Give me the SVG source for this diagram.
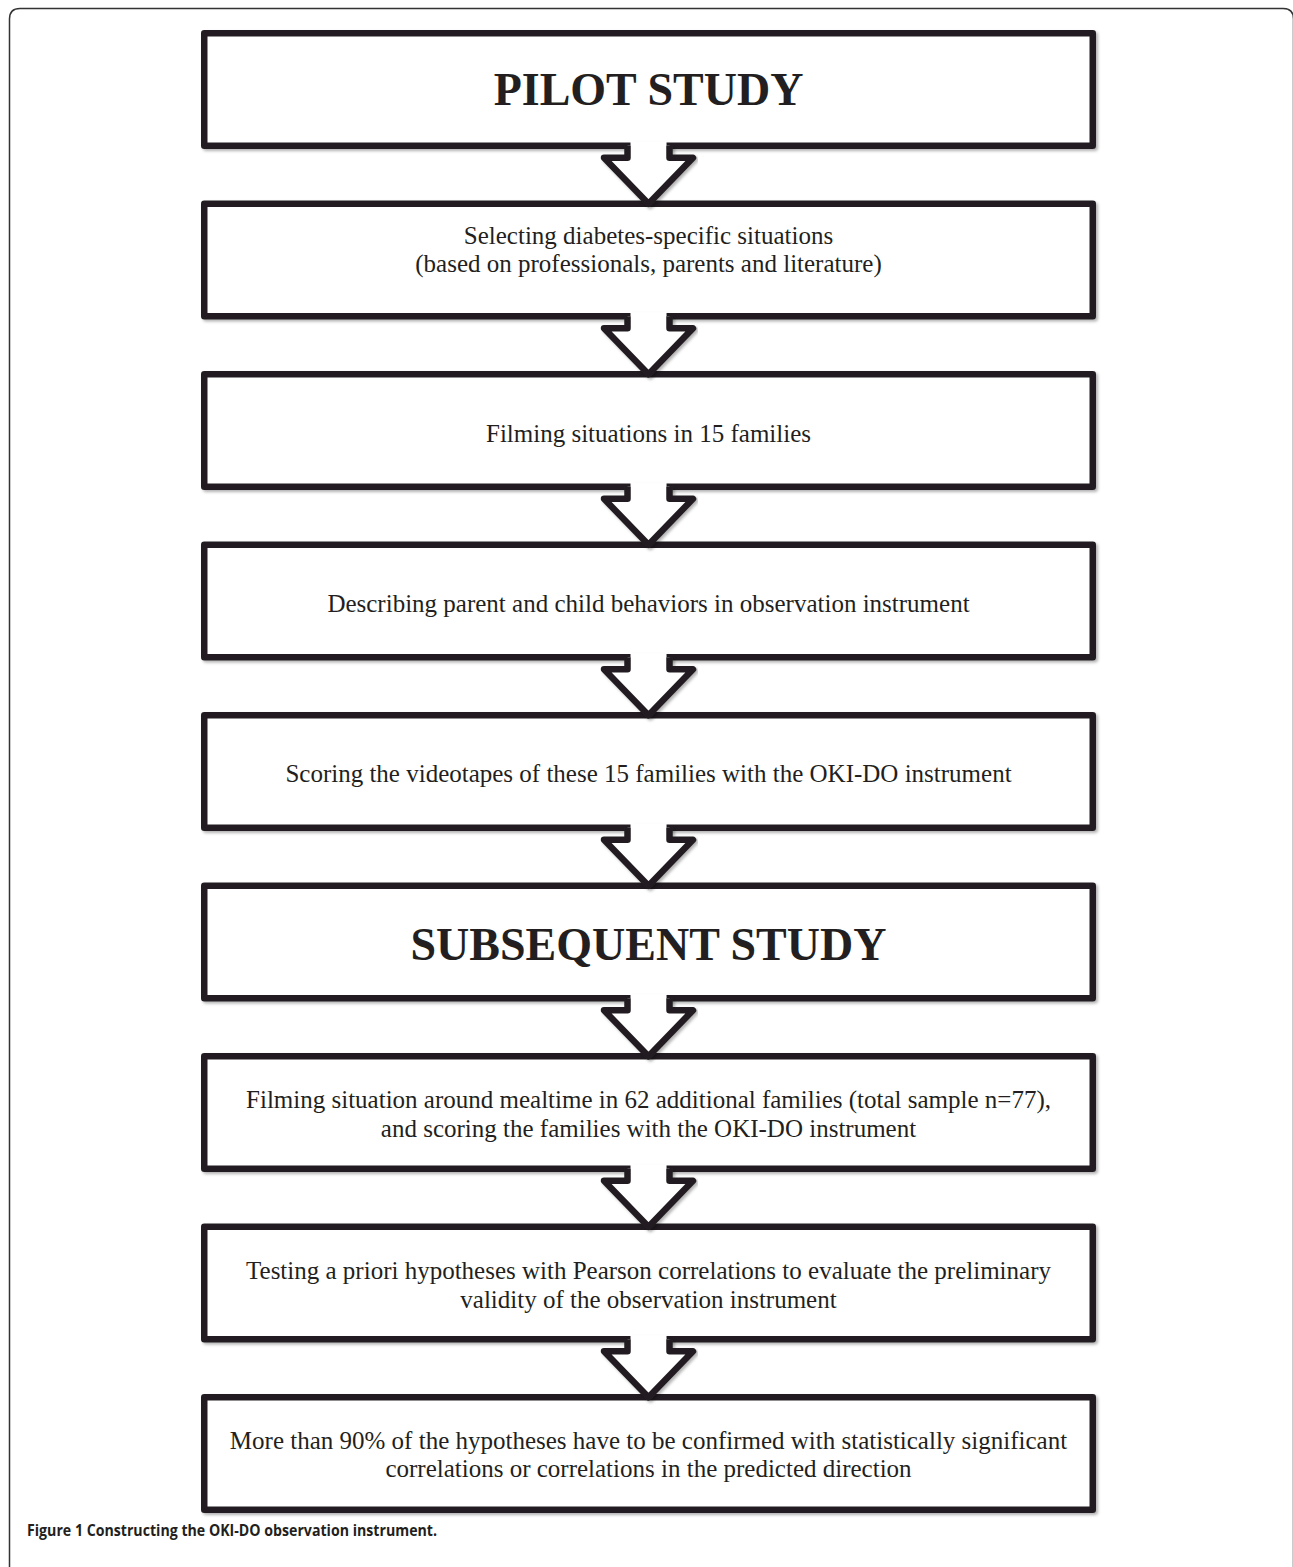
<svg xmlns="http://www.w3.org/2000/svg" xmlns:xlink="http://www.w3.org/1999/xlink" width="1293" height="1567" viewBox="0 0 1293 1567">
<style>
.box{fill:#fff;stroke:#231f20;stroke-width:6.5;stroke-linejoin:round;filter:url(#sh)}
.arr{fill:#fff;stroke:#231f20;stroke-width:6.5;stroke-linejoin:round;stroke-linecap:butt}
.t{font-family:"Liberation Serif","Times New Roman",serif;font-size:25px;fill:#231f20;text-anchor:middle}
.h{font-family:"Liberation Serif","Times New Roman",serif;font-size:46px;font-weight:bold;fill:#231f20;text-anchor:middle}
.cap{font-family:"Open Sans","Liberation Sans",Arial,sans-serif;font-size:16.5px;font-weight:bold;fill:#231f20}
</style>
<defs>
<filter id="sh" x="-5%" y="-5%" width="110%" height="120%">
<feDropShadow dx="2" dy="2" stdDeviation="1.5" flood-color="#000" flood-opacity="0.3"/>
</filter>
<g id="arrow">
<rect x="630.5" y="-4" width="36" height="8" fill="#fff"/>
<path class="arr" d="M627.5,0 V12 H604 L648.5,58 L693,12 H669.5 V0"/>
</g>
</defs>
<rect width="1293" height="1567" fill="#fff"/>
<path d="M9.5,1567 V19 Q9.5,8.5 20,8.5 H1283 Q1293.5,8.5 1293.5,19 V1567" fill="none" stroke="#333" stroke-width="1.5"/>

<g id="n1"><rect class="box" x="204.25" y="33.25" width="888.5" height="112.5"/><text class="h" x="648.5" y="105">PILOT STUDY</text></g>
<g id="n2"><rect class="box" x="204.25" y="203.75" width="888.5" height="112.5"/><text class="t" x="648.5" y="244">Selecting diabetes-specific situations</text><text class="t" x="648.5" y="272">(based on professionals, parents and literature)</text></g>
<g id="n3"><rect class="box" x="204.25" y="374.25" width="888.5" height="112.5"/><text class="t" x="648.5" y="442">Filming situations in 15 families</text></g>
<g id="n4"><rect class="box" x="204.25" y="544.75" width="888.5" height="112.5"/><text class="t" x="648.5" y="612">Describing parent and child behaviors in observation instrument</text></g>
<g id="n5"><rect class="box" x="204.25" y="715.25" width="888.5" height="112.5"/><text class="t" x="648.5" y="782">Scoring the videotapes of these 15 families with the OKI-DO instrument</text></g>
<g id="n6"><rect class="box" x="204.25" y="885.75" width="888.5" height="112.5"/><text class="h" x="648.5" y="960">SUBSEQUENT STUDY</text></g>
<g id="n7"><rect class="box" x="204.25" y="1056.25" width="888.5" height="112.5"/><text class="t" x="648.5" y="1108">Filming situation around mealtime in 62 additional families (total sample n=77),</text><text class="t" x="648.5" y="1137">and scoring the families with the OKI-DO instrument</text></g>
<g id="n8"><rect class="box" x="204.25" y="1226.75" width="888.5" height="112.5"/><text class="t" x="648.5" y="1279">Testing a priori hypotheses with Pearson correlations to evaluate the preliminary</text><text class="t" x="648.5" y="1308">validity of the observation instrument</text></g>
<g id="n9"><rect class="box" x="204.25" y="1397.25" width="888.5" height="112.5"/><text class="t" x="648.5" y="1449">More than 90% of the hypotheses have to be confirmed with statistically significant</text><text class="t" x="648.5" y="1477">correlations or correlations in the predicted direction</text></g>

<g id="connectors" filter="url(#sh)">
<use xlink:href="#arrow" y="145.75"/>
<use xlink:href="#arrow" y="316.25"/>
<use xlink:href="#arrow" y="486.75"/>
<use xlink:href="#arrow" y="657.25"/>
<use xlink:href="#arrow" y="827.75"/>
<use xlink:href="#arrow" y="998.25"/>
<use xlink:href="#arrow" y="1168.75"/>
<use xlink:href="#arrow" y="1339.25"/>
</g>

<g id="caption"><text class="cap" x="27" y="1536" textLength="410" lengthAdjust="spacingAndGlyphs">Figure 1 Constructing the OKI-DO observation instrument.</text></g>
</svg>
